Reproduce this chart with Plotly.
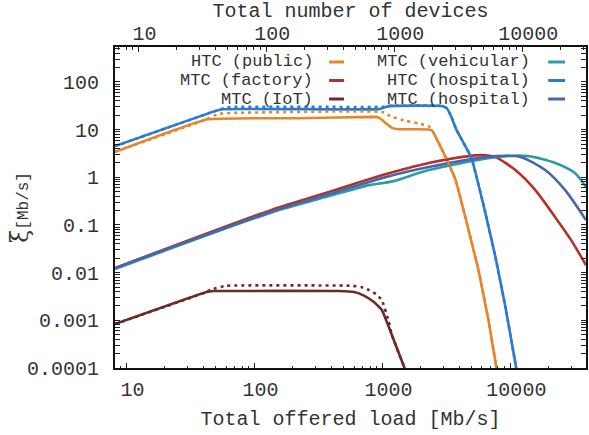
import plotly.graph_objects as go

# ---------------- data ----------------
htc_pub_x = [8.14, 42.3, 224, 859, 939, 1064, 1186, 1343, 2301, 2472, 2757, 3119, 3735, 4714, 5636, 6745, 7783, 8070]
htc_pub_y = [3.43, 16.4, 17.4, 18.5, 17.9, 13.7, 10.9, 10.2, 10.1, 9.31, 5.21, 2.65, 0.873, 0.0782, 0.0113, 0.00101, 0.0001, 0.0000617]
htc_pub_dot_x = [8.14, 42.3, 46.2, 53.5, 69.8, 991, 1186, 1524, 1923, 2301, 2472, 2757, 3119, 3735, 4714, 5636, 6745, 7783, 8070]
htc_pub_dot_y = [3.43, 16.4, 18.7, 21.6, 22.5, 23.6, 18.5, 15.3, 13.5, 11.8, 9.31, 5.21, 2.65, 0.873, 0.0782, 0.0113, 0.00101, 0.0001, 0.0000617]

mtc_fac_x = [8.14, 138, 383, 785, 991, 1124, 2301, 4714, 5944, 7643, 10940, 15670, 22390, 29850, 39000]
mtc_fac_y = [0.0125, 0.21, 0.490, 0.917, 1.11, 1.22, 1.99, 2.78, 2.92, 2.65, 1.42, 0.539, 0.146, 0.0482, 0.0144]

mtc_iot_x = [8.14, 42.3, 48.0, 459, 600, 718, 859, 991, 1186, 1469, 1607]
mtc_iot_y = [0.000836, 0.00392, 0.00411, 0.00411, 0.00392, 0.00331, 0.00242, 0.00164, 0.000492, 0.00011, 0.0000588]
mtc_iot_dot_x = [8.14, 42.3, 46.2, 60.5, 579, 680, 785, 889, 991, 1124, 1186, 1469, 1607]
mtc_iot_dot_y = [0.000836, 0.00392, 0.00447, 0.00531, 0.00531, 0.00499, 0.00432, 0.00356, 0.00267, 0.00092, 0.000492, 0.00011, 0.0000588]

mtc_veh_x = [8.14, 138, 383, 785, 991, 1228, 2301, 7643, 13810, 22390, 32060, 39000]
mtc_veh_y = [0.0119, 0.186, 0.404, 0.686, 0.755, 0.832, 1.42, 2.65, 2.78, 1.99, 1.22, 0.624]

htc_hosp_x = [8.14, 47.1, 56.4, 939, 1045, 1165, 2904, 3178, 3415, 3802, 4970, 6385, 7643, 9146, 10940, 11330]
htc_hosp_y = [4.51, 23.6, 26.9, 26.9, 29.6, 31.5, 31.5, 28.3, 20.1, 9.77, 2.53, 0.177, 0.0212, 0.00190, 0.000127, 0.0000713]
htc_hosp_dot_x = [8.14, 47.1, 59.5, 69.8, 991, 1124, 2904, 3178, 3415, 3802, 4970, 6385, 7643, 9146, 10940, 11330]
htc_hosp_dot_y = [4.51, 23.6, 28.9, 30.1, 30.1, 31.5, 31.5, 28.3, 20.1, 9.77, 2.53, 0.177, 0.0212, 0.00190, 0.000127, 0.0000713]

mtc_hosp_x = [8.14, 138, 383, 991, 2301, 7643, 12180, 18720, 26790, 39000]
mtc_hosp_y = [0.0125, 0.195, 0.445, 0.962, 1.64, 2.78, 2.65, 1.42, 0.539, 0.127]

x_ticks = [10, 100, 1000, 10000]
x_ticktext = ["10", "100", "1000", "10000"]
y_ticks = [0.0001, 0.001, 0.01, 0.1, 1, 10, 100]
y_ticktext = ["0.0001", "0.001", "0.01", "0.1", "1", "10", "100"]

legend_names = ["HTC (public)", "MTC (factory)", "MTC (IoT)",
                "MTC (vehicular)", "HTC (hospital)", "MTC (hospital)"]

# ---------------- style ----------------
C_ORANGE = "#e5862c"
C_RED = "#b4302c"
C_BROWN = "#6c2a2c"
C_TEAL = "#2f9aa6"
C_BLUE = "#2b7bd0"
C_SLATE = "#4a66a8"
colors = [C_ORANGE, C_RED, C_BROWN, C_TEAL, C_BLUE, C_SLATE]
FONT = "Liberation Mono"
TXT = "#333"
LW = 2.6
DOT = "3px,4px"

fig = go.Figure()

def add(x, y, color, name, dash="solid", smooth=0.0):
    line = dict(color=color, width=LW, dash=dash)
    if smooth > 0:
        line.update(shape="spline", smoothing=smooth)
    fig.add_trace(go.Scatter(x=x, y=y, mode="lines", name=name, showlegend=False,
                             line=line, hoverinfo="skip"))

add(htc_pub_x, htc_pub_y, C_ORANGE, legend_names[0], smooth=0.3)
add(mtc_fac_x, mtc_fac_y, C_RED, legend_names[1], smooth=0.7)
add(mtc_iot_x, mtc_iot_y, C_BROWN, legend_names[2], smooth=0.3)
add(mtc_veh_x, mtc_veh_y, C_TEAL, legend_names[3], smooth=0.7)
add(htc_hosp_x, htc_hosp_y, C_BLUE, legend_names[4], smooth=0.3)
add(mtc_hosp_x, mtc_hosp_y, C_SLATE, legend_names[5], smooth=0.7)
add(htc_pub_dot_x, htc_pub_dot_y, C_ORANGE, legend_names[0] + " dotted", DOT, smooth=0.3)
add(mtc_iot_dot_x, mtc_iot_dot_y, C_BROWN, legend_names[2] + " dotted", DOT, smooth=0.3)
add(htc_hosp_dot_x, htc_hosp_dot_y, C_BLUE, legend_names[4] + " dotted", DOT, smooth=0.3)

# invisible trace to activate the top axis
fig.add_trace(go.Scatter(x=x_ticks, y=[1] * len(x_ticks), xaxis="x2", mode="lines",
                         line=dict(width=0), opacity=0, showlegend=False, hoverinfo="skip"))

def minor_vals(lo, hi):
    vals = []
    for d in range(lo, hi):
        for k in range(2, 10):
            vals.append(k * 10 ** d)
    return vals

tickfont = dict(family=FONT, size=20, color=TXT)
common = dict(type="log", showgrid=False, zeroline=False, ticks="inside", ticklen=5,
              tickwidth=1.2, tickcolor="#222", showline=True, linewidth=2, linecolor="#111",
              tickfont=tickfont)

fig.update_layout(
    width=589, height=435,
    margin=dict(l=115, r=1, t=47, b=67),
    paper_bgcolor="white", plot_bgcolor="white",
    showlegend=False,
    xaxis=dict(**common, range=[0.9105, 4.591], tickvals=x_ticks, ticktext=x_ticktext,
               ticklabelshift=6, ticklabelstandoff=2,
               minor=dict(ticks="inside", ticklen=2.5, tickwidth=1, tickcolor="#222",
                          tickmode="array", tickvals=minor_vals(0, 5)),
               title=dict(text="Total offered load [Mb/s]", font=dict(family=FONT, size=20, color=TXT),
                          standoff=10)),
    xaxis2=dict(**common, range=[0.817, 4.498], overlaying="x", side="top", anchor="y",
                tickvals=x_ticks, ticktext=x_ticktext, ticklabelshift=6, ticklabelstandoff=-3,
                minor=dict(ticks="inside", ticklen=2.5, tickwidth=1, tickcolor="#222",
                           tickmode="array", tickvals=minor_vals(0, 5)),
                title=dict(text="Total number of devices", font=dict(family=FONT, size=20, color=TXT),
                           standoff=2)),
    yaxis=dict(**common, range=[-4, 2.734], tickvals=y_ticks, ticktext=y_ticktext,
               mirror="allticks", ticklabelstandoff=10,
               minor=dict(ticks="inside", ticklen=2.5, tickwidth=1, tickcolor="#222",
                          tickmode="array", tickvals=minor_vals(-4, 3))),
)

# y-axis title
fig.add_annotation(xref="paper", yref="paper", x=-0.203, y=0.5, showarrow=False, textangle=-90,
                   text="<span style='font-family:DejaVu Serif;font-size:24px'>ξ</span>[Mb/s]",
                   font=dict(family=FONT, size=16, color=TXT), xanchor="center", yanchor="middle")

# legend (text right-aligned, sample line after text)
col_text_x = [0.4228, 0.8837]
col_line_x = [(0.4545, 0.4863), (0.9197, 0.9556)]
row_y = [0.9533, 0.8956, 0.838]
for i, (name, col) in enumerate(zip(legend_names, colors)):
    c, r = divmod(i, 3)
    fig.add_annotation(xref="paper", yref="paper", x=col_text_x[c], y=row_y[r], text=name,
                       showarrow=False, xanchor="right", yanchor="middle", borderpad=0,
                       font=dict(family=FONT, size=17, color=TXT))
    fig.add_shape(type="line", xref="paper", yref="paper", x0=col_line_x[c][0], x1=col_line_x[c][1],
                  y0=row_y[r], y1=row_y[r], line=dict(color=col, width=3))

fig.write_html("out.html")
